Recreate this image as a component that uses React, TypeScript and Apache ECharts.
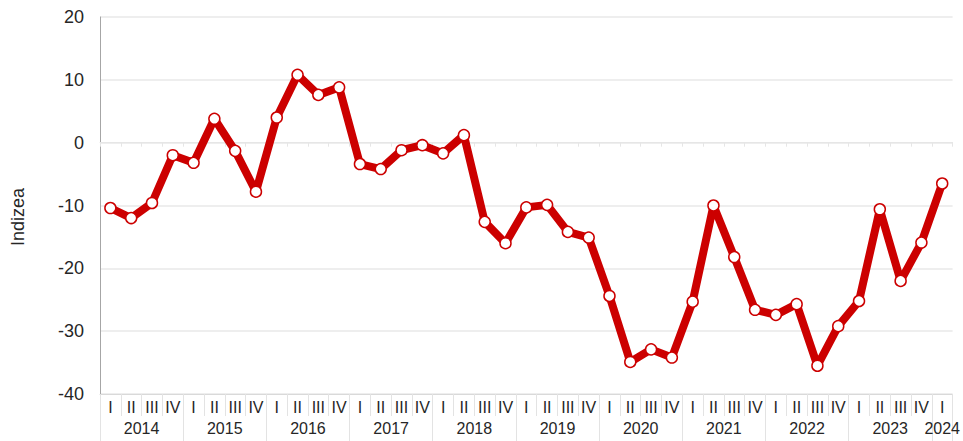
import React, { useEffect, useRef } from "react";
import * as echarts from "echarts";

const quarterLabels = [
  "I", "II", "III", "IV", "I", "II", "III", "IV", "I", "II", "III", "IV",
  "I", "II", "III", "IV", "I", "II", "III", "IV", "I", "II", "III", "IV",
  "I", "II", "III", "IV", "I", "II", "III", "IV", "I", "II", "III", "IV",
  "I", "II", "III", "IV", "I",
];

const years = ["2014", "2015", "2016", "2017", "2018", "2019", "2020", "2021", "2022", "2023", "2024"];

const indexValues = [
  -10.4, -12.0, -9.6, -2.0,
  -3.2, 3.8, -1.3, -7.8,
  4.0, 10.8, 7.6, 8.8,
  -3.4, -4.2, -1.2, -0.4,
  -1.7, 1.2, -12.6, -16.0,
  -10.3, -9.9, -14.2, -15.1,
  -24.4, -34.9, -32.9, -34.2,
  -25.3, -10.0, -18.2, -26.6,
  -27.4, -25.7, -35.5, -29.2,
  -25.2, -10.6, -22.0, -15.9,
  -6.5,
];

const yTicks = { min: -40, max: 20, interval: 10 };

export default function App() {
  const ref = useRef<HTMLDivElement>(null);

  useEffect(() => {
    if (!ref.current) return;
    const chart = echarts.init(ref.current, null, { renderer: "svg" });
    const n = quarterLabels.length;
    const yearBounds: number[] = [];
    const yearCenters: number[] = [];
    years.forEach((_, i) => {
      const start = i * 4;
      const end = Math.min(start + 4, n);
      yearBounds.push(start);
      yearCenters.push((start + end) / 2);
    });
    yearBounds.push(n);
    const font = "Arial, 'Liberation Sans', sans-serif";
    const textColor = "#262626";

    chart.setOption({
      animation: false,
      backgroundColor: "#ffffff",
      grid: { left: 100, right: 10, top: 17, bottom: 47, containLabel: false },
      graphic: [
        {
          type: "text",
          x: 18,
          y: 217,
          rotation: Math.PI / 2,
          style: {
            text: "Indizea",
            fontSize: 18,
            fontFamily: font,
            fill: textColor,
            align: "center",
            verticalAlign: "middle",
          },
        },
      ],
      xAxis: [
        {
          type: "category",
          data: quarterLabels,
          boundaryGap: true,
          axisLine: { show: true, onZero: true, lineStyle: { color: "#e6e6e6", width: 1 } },
          axisTick: { show: true, interval: 0, length: 4, lineStyle: { color: "#e6e6e6" } },
          axisLabel: { show: false },
          splitLine: { show: false },
        },
        {
          type: "category",
          data: quarterLabels,
          position: "bottom",
          boundaryGap: true,
          axisLine: { show: true, onZero: false, lineStyle: { color: "#d9d9d9", width: 1 } },
          axisTick: { show: true, interval: 0, length: 22, lineStyle: { color: "#e3e3e3" } },
          axisLabel: {
            show: true,
            interval: 0,
            fontSize: 16,
            fontFamily: font,
            color: textColor,
            margin: 5,
          },
          splitLine: { show: false },
        },
        {
          type: "value",
          position: "bottom",
          min: 0,
          max: n,
          axisLine: { show: false, onZero: false },
          axisTick: {
            show: true,
            customValues: yearBounds,
            length: 47,
            lineStyle: { color: "#e3e3e3" },
          },
          axisLabel: {
            show: true,
            customValues: yearCenters,
            fontSize: 16,
            fontFamily: font,
            color: textColor,
            margin: 26,
            formatter: (v: number) => {
              const idx = yearCenters.findIndex((c) => Math.abs(c - v) < 1e-6);
              return idx >= 0 ? years[idx] : "";
            },
          },
          splitLine: { show: false },
        },
      ],
      yAxis: {
        type: "value",
        min: yTicks.min,
        max: yTicks.max,
        interval: yTicks.interval,
        axisLine: { show: true, lineStyle: { color: "#a6a6a6", width: 1 } },
        axisTick: { show: false },
        axisLabel: {
          fontSize: 18,
          fontFamily: font,
          color: textColor,
          margin: 16,
        },
        splitLine: { show: true, lineStyle: { color: "#e8e8e8", width: 1.5 } },
      },
      series: [
        {
          type: "line",
          xAxisIndex: 0,
          yAxisIndex: 0,
          data: indexValues,
          symbol: "circle",
          symbolSize: 11,
          lineStyle: { color: "#cc0000", width: 8 },
          itemStyle: { color: "#ffffff", borderColor: "#cc0000", borderWidth: 1.5 },
          z: 5,
        },
      ],
    });

    return () => chart.dispose();
  }, []);

  return (
    <div
      ref={ref}
      style={{ position: "fixed", left: 0, top: 0, width: 963, height: 441, background: "#fff" }}
    />
  );
}
